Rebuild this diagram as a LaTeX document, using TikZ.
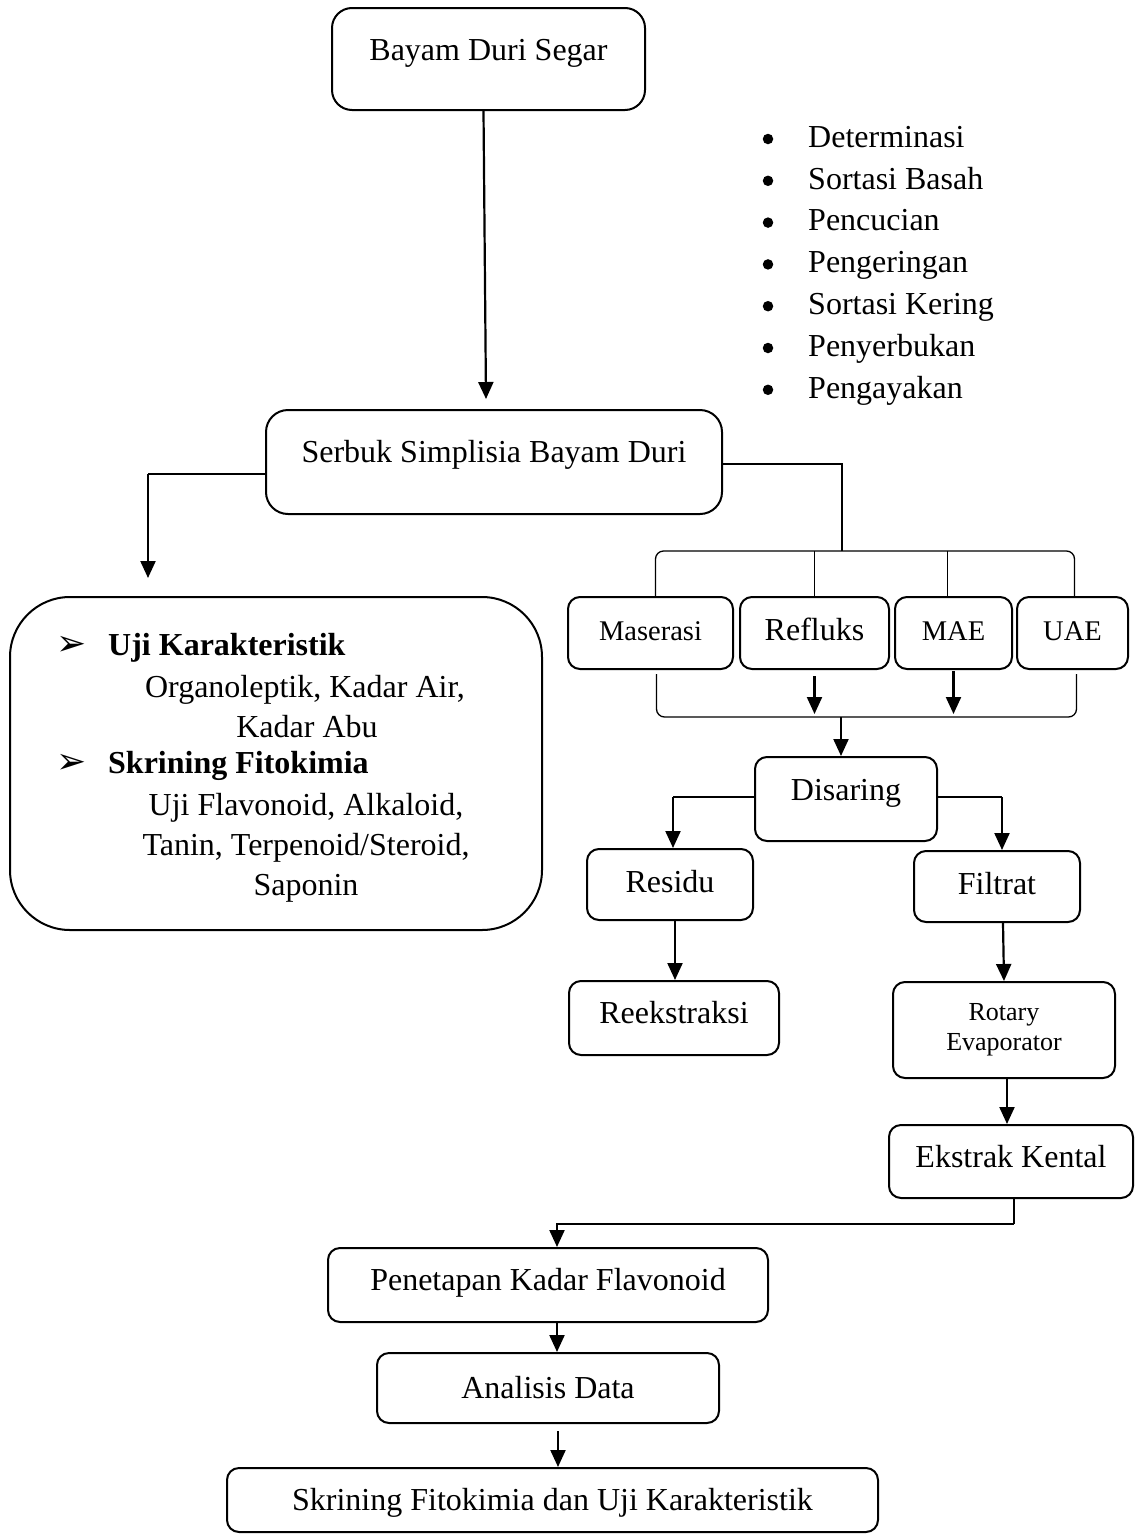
\documentclass[tikz,border=0pt]{standalone}
\usepackage{fontspec}
\setmainfont{Liberation Serif}
\newfontfamily\djv{DejaVu Sans}
\usetikzlibrary{arrows.meta,calc}
\newcommand{\fsz}[2]{\fontsize{#1}{#2}\selectfont}
\begin{document}
\begin{tikzpicture}[x=1pt,y=-1pt,
  box/.style={draw, line width=2pt, rounded corners=12pt, inner sep=0pt, font=\fsz{32}{40}},
  one/.style={text height=23pt, text depth=#1},
  arr/.style={line width=2.2pt, -{Triangle[length=17pt,width=15pt]}},
  thinln/.style={line width=1.3pt},
  txt/.style={inner sep=0pt, font=\fsz{32}{40}},
  dot/.style={circle, fill, inner sep=0pt, minimum size=10.5pt},
]
\useasboundingbox (0,0) rectangle (1135,1537);

% boxes
\node[box, one=21pt, rounded corners=20pt, minimum width=313pt, minimum height=102pt] (b1) at (488.5,59) {Bayam Duri Segar};
\node[box, one=23pt, rounded corners=22pt, minimum width=456pt, minimum height=104pt] (b2) at (494,462) {Serbuk Simplisia Bayam Duri};

\node[box, one=9pt, font=\fsz{28.5}{34}, minimum width=165pt, minimum height=72pt] (ms) at (650.5,633) {Maserasi};
\node[box, one=9pt, minimum width=149pt, minimum height=72pt] (rf) at (814.5,633) {Refluks};
\node[box, one=9pt, font=\fsz{28.5}{34}, minimum width=117pt, minimum height=72pt] (ma) at (953.5,633) {MAE};
\node[box, one=9pt, font=\fsz{28.5}{34}, minimum width=111pt, minimum height=72pt] (ua) at (1072.5,633) {UAE};

\node[box, one=21pt, minimum width=182pt, minimum height=84pt] (ds) at (846,799) {Disaring};
\node[box, one=7pt, minimum width=166pt, minimum height=71pt] (rs) at (670,884.5) {Residu};
\node[box, one=7pt, minimum width=166pt, minimum height=71pt] (ft) at (997,886.5) {Filtrat};
\node[box, one=13pt, minimum width=210pt, minimum height=74pt] (rk) at (674,1018) {Reekstraksi};
\node[box, align=center, font=\fsz{26}{30}, minimum width=222pt, minimum height=96pt] (rt) at (1004,1030) {Rotary\\Evaporator};
\node[box, one=11pt, minimum width=244pt, minimum height=73pt] (ek) at (1011,1161.5) {Ekstrak Kental};
\node[box, one=13pt, minimum width=440pt, minimum height=74pt] (pk) at (548,1285) {Penetapan Kadar Flavonoid};
\node[box, one=3pt, minimum width=342pt, minimum height=70pt] (ad) at (548,1388) {Analisis Data};
\node[box, one=3pt, minimum width=651pt, minimum height=64pt] (sk) at (552.5,1500) {Skrining Fitokimia dan Uji Karakteristik};

% bullet list
\foreach \t [count=\i from 0] in {Determinasi,Sortasi Basah,Pencucian,Pengeringan,Sortasi Kering,Penyerbukan,Pengayakan}{
  \node[dot] (bl\i) at (768,139+41.8*\i) {};
  \node[txt, anchor=mid west] (it\i) at (808,145+41.8*\i) {\t};
}

% big box
\node[draw, line width=2pt, rounded corners=60pt, minimum width=532pt, minimum height=333pt] (big) at (276,763.5) {};
\node[inner sep=0pt, font=\djv\fsz{36}{40}] (ar1) at (72,646) {➢};
\node[txt, anchor=mid west, font=\bfseries\fsz{32}{40}] (h1) at (108,653) {Uji Karakteristik};
\node[txt, anchor=mid] (l1) at (305,695) {Organoleptik, Kadar Air,};
\node[txt, anchor=mid] (l2) at (307,735) {Kadar Abu};
\node[inner sep=0pt, font=\djv\fsz{36}{40}] (ar2) at (72,764) {➢};
\node[txt, anchor=mid west, font=\bfseries\fsz{32}{40}] (h2) at (108,771) {Skrining Fitokimia};
\node[txt, anchor=mid] (l3) at (306,813) {Uji Flavonoid, Alkaloid,};
\node[txt, anchor=mid] (l4) at (306,853) {Tanin, Terpenoid/Steroid,};
\node[txt, anchor=mid] (l5) at (306,893) {Saponin};

% connectors
\draw[arr] ([xshift=-5pt]b1.south) -- ([xshift=-8pt,yshift=10pt]b2.north);

\coordinate (lc) at (148,474);
\coordinate (lt) at (148,578);
\draw[thinln] ([yshift=-12pt]b2.west) -- (lc);
\draw[arr] (lc) -- (lt);

\coordinate (tb) at (842,551);
\draw[thinln] ([yshift=-2pt]b2.east) -| (tb);
\draw[thinln, rounded corners=8pt] ([xshift=5pt]ms.north) |- (tb) -| ([xshift=2pt]ua.north);
\draw[thinln] (rf.north) -- (rf.north |- tb);
\coordinate (mt) at ([xshift=-6pt]ma.north);
\draw[thinln] (mt) -- (mt |- tb);

\coordinate (bb) at (841,717);
\draw[thinln, rounded corners=8pt] ([xshift=6pt,yshift=-4pt]ms.south) |- (bb) -| ([xshift=4pt,yshift=-4pt]ua.south);
\coordinate (r1) at ([yshift=-6pt]rf.south);
\draw[arr, shorten >=3pt] (r1) -- (r1 |- bb);
\coordinate (m1) at ([yshift=-1pt]ma.south);
\draw[arr, shorten >=3pt] (m1) -- (m1 |- bb);
\draw[arr] (bb) -- ([xshift=-5pt]ds.north);

\coordinate (dl) at (673,797);
\coordinate (dr) at (1002,797);
\draw[thinln] ([yshift=2pt]ds.west) -- (dl);
\draw[arr] (dl) -- ([xshift=3pt]rs.north);
\draw[thinln] ([yshift=2pt]ds.east) -- (dr);
\draw[arr] (dr) -- ([xshift=5pt]ft.north);

\draw[arr] ([xshift=5pt]rs.south) -- ([xshift=1pt]rk.north);
\draw[arr] ([xshift=6pt]ft.south) -- (rt.north);
\draw[arr] ([xshift=3pt]rt.south) -- ([xshift=-4pt]ek.north);

\coordinate (ec) at (1014,1224);
\draw[line width=2.2pt] ([xshift=3pt]ek.south) -- (ec);
\draw[arr] (ec) -| ([xshift=9pt]pk.north);
\draw[arr] ([xshift=9pt]pk.south) -- ([xshift=9pt]ad.north);
\draw[arr] ([xshift=10pt,yshift=-7pt]ad.south) -- ([xshift=5.5pt]sk.north);
\end{tikzpicture}
\end{document}
